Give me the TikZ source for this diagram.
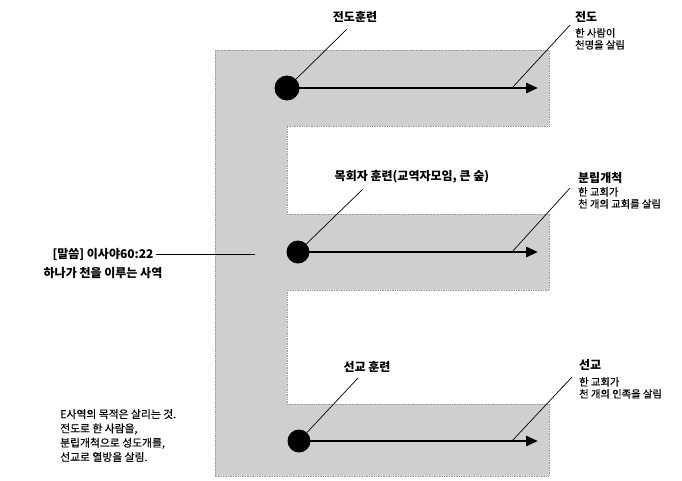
\documentclass[tikz,border=0pt]{standalone}
\usepackage{fontspec}
\setmainfont{Noto Sans CJK KR}
\usetikzlibrary{arrows.meta}
\tikzset{
  band/.style={fill=gray!38, draw=gray!80, densely dotted, line width=0.7pt},
  spot/.style={circle, fill=black, inner sep=0pt},
  flow/.style={line width=2.8pt, -{Triangle[length=12pt,width=10pt]}},
  lead/.style={line width=0.7pt},
  ttl/.style={font=\fontsize{12}{14}\selectfont\bfseries, inner sep=0pt},
  sub/.style={font=\fontsize{10.3}{12}\selectfont\addfontfeature{FakeBold=0.6}, inner sep=0pt, align=left},
  word/.style={font=\fontsize{12}{14}\selectfont\bfseries, inner sep=0pt},
  note/.style={font=\fontsize{10.8}{14.3}\selectfont\addfontfeature{FakeBold=0.6}, inner sep=0pt, align=left}
}
\begin{document}
\begin{tikzpicture}[x=1pt,y=-1pt]
\useasboundingbox (0,0) rectangle (682,480);
% E-shaped grey band
\path[band] (215,50) -- (549,50) -- (549,126) -- (287,126) -- (287,214)
  -- (549,214) -- (549,290) -- (287,290) -- (287,404) -- (549,404)
  -- (549,476) -- (215,476) -- cycle;
% dots
\node[spot, minimum size=25pt] (d1) at (287,88) {};
\node[spot, minimum size=23pt] (d2) at (298,252) {};
\node[spot, minimum size=23pt] (d3) at (299,441) {};
% arrow ends
\coordinate (e1) at (538,88);
\coordinate (e2) at (538,252);
\coordinate (e3) at (538,441);
\draw[flow] (d1.center) -- (e1);
\draw[flow] (d2.center) -- (e2);
\draw[flow] (d3.center) -- (e3);
% left labels
\node[ttl] (l1) at (355,17) {전도훈련};
\node[ttl] (l2) at (412,177) {목회자 훈련(교역자모임, 큰 숲)};
\node[ttl] (l3) at (367,367) {선교 훈련};
\coordinate (l1a) at (347,29);
\coordinate (l2a) at (363,189);
\coordinate (l3a) at (358,378);
\draw[lead] (d1) -- (l1a);
\draw[lead] (d2) -- (l2a);
\draw[lead] (d3) -- (l3a);
% right labels
\node[ttl, anchor=west] (r1) at (575,17) {전도};
\node[sub, anchor=north west] (r1s) at (575,28) {한 사람이\\천명을 살림};
\node[ttl, anchor=west] (r2) at (578,178) {분립개척};
\node[sub, anchor=north west] (r2s) at (578,187) {한 교회가\\천 개의 교회를 살림};
\node[ttl, anchor=west] (r3) at (579,365) {선교};
\node[sub, anchor=north west] (r3s) at (579,377) {한 교회가\\천 개의 인족을 살림};
\coordinate (r1b) at (512,88);
\coordinate (r2b) at (512,252);
\coordinate (r3b) at (512,441);
\coordinate (r1a) at (570,25);
\coordinate (r2a) at (570,188);
\coordinate (r3a) at (572,377);
\draw[lead] (r1b) -- (r1a);
\draw[lead] (r2b) -- (r2a);
\draw[lead] (r3b) -- (r3a);
% word
\node[word] (w1) at (103,254) {[말씀] 이사야60:22};
\node[word] (w2) at (103,273) {하나가 천을 이루는 사역};
\coordinate (wb) at (255,254);
\draw[lead] (w1.east) ++(2,0) -- (wb);
% note
\node[note, anchor=north west] (n1) at (60,409) {E사역의 목적은 살리는 것.\\전도로 한 사람을,\\분립개척으로 성도개를,\\선교로 열방을 살림.};
\end{tikzpicture}
\end{document}
